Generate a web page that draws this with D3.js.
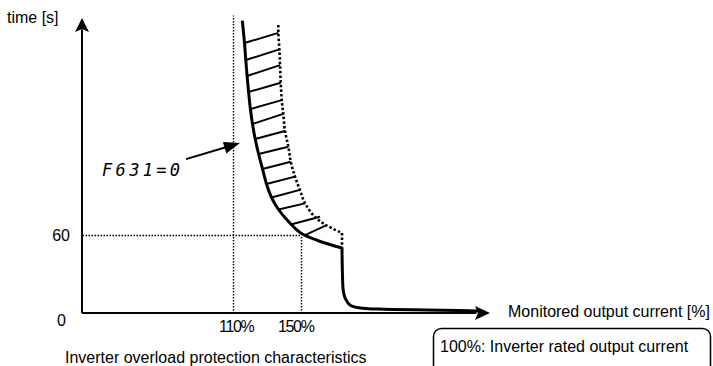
<!DOCTYPE html>
<html><head><meta charset="utf-8">
<script src="https://cdn.jsdelivr.net/npm/d3@7"></script>
<style>
body{margin:0;background:#fff}
svg{display:block}
text{font-family:"Liberation Sans",Arial,sans-serif;font-size:16px;fill:#000}
</style>
</head><body>
<svg id="c" width="713" height="366"></svg>
<script>
// ---- data (current %, time s) ----
const xTicks = [110, 150];
const yTicks = [0, 60];
const xTickLabels = ["110%", "150%"];
const yTickLabels = ["0", "60"];
const overloadCurve = [[115.29,224.69],[116.59,207.55],[117.35,194.48],[118.12,182.18],[119.0,169.89],[120.06,156.81],[121.29,145.28],[122.88,133.75],[124.88,122.23],[127.18,110.70],[129.53,99.16],[132.47,88.79],[136.59,79.56],[142.18,70.72],[149.24,61.88],[160.41,55.35],[173.94,49.97]];
const dropCurve = [[173.94,49.97],[174.2,30],[174.7,17],[175.9,11],[178.8,6],[184.8,3.8],[195,3],[254,1.6]];
const upperBound = [[136.5,221.4],[136.5,215.4],[137.1,202.7],[137.5,190.6],[137.9,177.0],[138.5,163.7],[139.4,153.0],[140.4,139.9],[142.4,127.8],[143.8,116.3],[146.3,104.8],[149.2,94.6],[152.2,84.3],[158.06,73.8],[164.94,67.26],[173.94,61.5]];
const upperDrop = [[173.94,61.5],[173.94,50]];
const hatchFrom = [[116.59,207.55],[117.35,194.48],[118.12,182.18],[119.0,169.89],[120.06,156.81],[121.29,145.28],[122.88,133.75],[124.88,122.23],[127.18,110.70],[129.53,99.16],[132.47,88.79],[136.59,79.56],[144.4,68.2],[152.5,60.0]];
const hatchTo   = [[136.5,215.4],[137.1,202.7],[137.5,190.6],[137.9,177.0],[138.5,163.7],[139.4,153.0],[140.4,139.9],[142.4,127.8],[143.8,116.3],[146.3,104.8],[149.2,94.6],[152.2,84.3],[161.0,74.0],[164.9,67.6]];
const guides = [[[110,0],[110,229]], [[21,60],[150,60]], [[150,0],[150,60]]];
const paramArrow = [[82.2,118.3],[113.9,130.6]];
const paramLabel = "F631=0";
const yTitle = "time [s]";
const xTitle = "Monitored output current [%]";
const caption = "Inverter overload protection characteristics";
const note = "100%: Inverter rated output current";

// ---- scales ----
const x = d3.scaleLinear().domain([21, 261]).range([82, 490]);
const y = d3.scaleLinear().domain([0, 226]).range([313, 19]);
const svg = d3.select("#c");
const line = d3.line().x(d => x(d[0])).y(d => y(d[1]));
const crisp = d3.line().x(d => Math.round(x(d[0])) + 0.5).y(d => Math.round(y(d[1])) + 0.5);
const smooth = d3.line().x(d => x(d[0])).y(d => y(d[1])).curve(d3.curveCatmullRom.alpha(0.5));

// guides
svg.selectAll(".guide").data(guides).join("path").attr("class","guide")
  .attr("d", crisp).attr("fill","none").attr("stroke","#000")
  .attr("stroke-width",1.4).attr("stroke-dasharray","1.5,1.5");

// axes
const x0 = x.domain()[0], y0 = y.domain()[0];
svg.append("path").attr("d", line([[x0,y0],[x0,y.domain()[1]-8]]))
  .attr("stroke","#000").attr("stroke-width",2).attr("fill","none");
svg.append("path").attr("d", line([[x0,y0],[x.domain()[1]-8,y0]]))
  .attr("stroke","#000").attr("stroke-width",2).attr("fill","none");
{
  const tx = x(x0), ty = y(y.domain()[1]) - 1;
  svg.append("path").attr("d", `M${tx},${ty} L${tx+7},${ty+14} L${tx},${ty+11} L${tx-7},${ty+14} Z`).attr("fill","#000");
  const ax = x(x.domain()[1]), ay = y(y0);
  svg.append("path").attr("d", `M${ax},${ay} L${ax-15},${ay-7} L${ax-12},${ay} L${ax-15},${ay+7} Z`).attr("fill","#000");
}

// hatches
svg.selectAll(".hatch").data(hatchFrom.map((d,i)=>[d, hatchTo[i]])).join("path").attr("class","hatch")
  .attr("d", line).attr("stroke","#000").attr("stroke-width",1.9).attr("fill","none");

// upper bound dotted
svg.append("path").attr("d", smooth(upperBound)).attr("fill","none").attr("stroke","#000")
  .attr("stroke-width",2.6).attr("stroke-dasharray","2.5,2.1");
svg.append("path").attr("d", line(upperDrop)).attr("fill","none").attr("stroke","#000")
  .attr("stroke-width",2.6).attr("stroke-dasharray","2.5,2.1");

// main curve
svg.append("path").attr("d", smooth(overloadCurve)).attr("fill","none").attr("stroke","#000")
  .attr("stroke-width",3).attr("stroke-linecap","butt");
svg.append("path").attr("d", smooth(dropCurve)).attr("fill","none").attr("stroke","#000")
  .attr("stroke-width",3).attr("stroke-linejoin","round");

// parameter arrow
{
  const [a,b] = paramArrow;
  const x1=x(a[0]), y1=y(a[1]), x2=x(b[0]), y2=y(b[1]);
  const ang = Math.atan2(y2-y1, x2-x1);
  const L = 16, W = 6;
  const bx = x2 - L*Math.cos(ang), by = y2 - L*Math.sin(ang);
  svg.append("line").attr("x1",x1).attr("y1",y1).attr("x2",bx+3*Math.cos(ang)).attr("y2",by+3*Math.sin(ang))
    .attr("stroke","#000").attr("stroke-width",2);
  svg.append("path").attr("d", `M${x2},${y2} L${bx - W*Math.sin(ang)},${by + W*Math.cos(ang)} L${bx + W*Math.sin(ang)},${by - W*Math.cos(ang)} Z`).attr("fill","#000");
  svg.append("text").attr("x", x1-84).attr("y", y1+17)
    .attr("textLength", 78).attr("lengthAdjust","spacing")
    .style("font-family","'DejaVu Sans Mono',monospace").style("font-style","italic")
    .style("font-size","17px").style("font-weight","normal")
    .text(paramLabel);
}

// tick labels
const xdx = {110: 3, 150: -5.5};
svg.selectAll(".xt").data(xTicks).join("text").attr("class","xt")
  .attr("x", d => x(d) + xdx[d]).attr("y", y(0) + 18.5).attr("text-anchor","middle")
  .style("letter-spacing","-1.3px")
  .text((d,i) => xTickLabels[i]);
const ydy = {0: 13, 60: 6};
const ydx = {0: 16, 60: 12};
svg.selectAll(".yt").data(yTicks).join("text").attr("class","yt")
  .attr("x", d => x(x0) - ydx[d]).attr("y", d => y(d) + ydy[d]).attr("text-anchor","end")
  .text((d,i) => yTickLabels[i]);

// titles
svg.append("text").attr("x", 7).attr("y", 23).text(yTitle);
svg.append("text").attr("x", 508).attr("y", 317).text(xTitle);
svg.append("text").attr("x", 65).attr("y", 363).text(caption);
svg.append("rect").attr("x", 433.5).attr("y", 328.5).attr("width", 277).attr("height", 50)
  .attr("rx", 8).attr("fill","none").attr("stroke","#000").attr("stroke-width",1.5);
svg.append("text").attr("x", 440).attr("y", 352).text(note);
</script>
</body></html>
